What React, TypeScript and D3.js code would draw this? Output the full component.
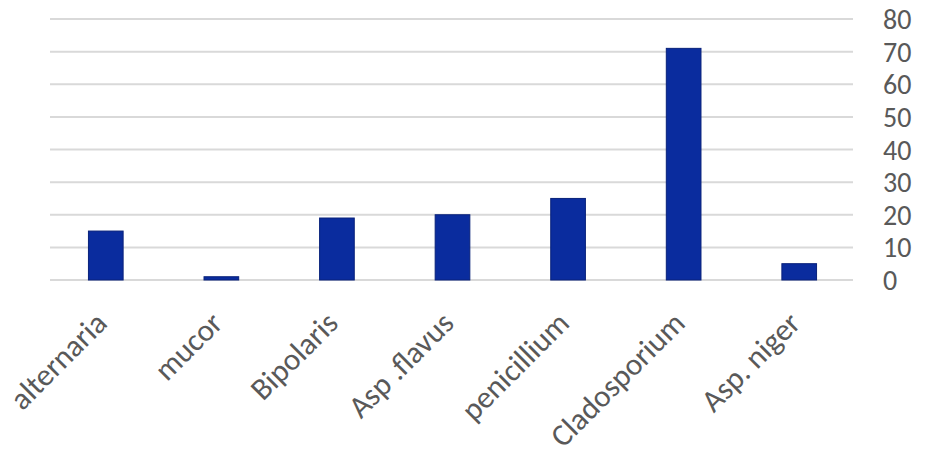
import React from "react";
import * as d3 from "d3";

const categories = ["alternaria", "mucor", "Bipolaris", "Asp .flavus", "penicillium", "Cladosporium", "Asp. niger"];
const values = [15, 1, 19, 20, 25, 71, 5];
const yTicks = [0, 10, 20, 30, 40, 50, 60, 70, 80];

const W = 931;
const H = 465;
const FONT = "Carlito, Lato, 'Liberation Sans', sans-serif";

export default function App() {
  const x = d3.scaleBand<string>().domain(categories).range([48, 857]).paddingInner(0.7).paddingOuter(0.35);
  const y = d3.scaleLinear().domain([0, 80]).range([280, 19]);
  const bw = x.bandwidth();
  return (
    <svg width={W} height={H} style={{ position: "absolute", left: 0, top: 0, background: "#fff" }}>
      {yTicks.map((t) => (
        <line key={"g" + t} x1={50} x2={853} y1={y(t)} y2={y(t)} stroke="#d9d9d9" strokeWidth={2} />
      ))}
      {yTicks.map((t) => (
        <text key={"t" + t} x={883} y={y(t)} dy="0.36em" fontFamily={FONT} fontSize={28} fill="#595959">
          {t}
        </text>
      ))}
      {categories.map((c, i) => (
        <rect
          key={c}
          x={x(c)!}
          y={y(values[i])}
          width={bw}
          height={y(0) - y(values[i])}
          fill="#0a2c9e"
          stroke="#08217a"
          strokeWidth={1}
        />
      ))}
      {categories.map((c) => {
        const cx = x(c)! + bw / 2;
        return (
          <text
            key={"l" + c}
            transform={`translate(${cx + 3},${325}) rotate(-45)`}
            textAnchor="end"
            fontFamily={FONT}
            fontSize={31}
            fill="#595959"
          >
            {c}
          </text>
        );
      })}
    </svg>
  );
}
